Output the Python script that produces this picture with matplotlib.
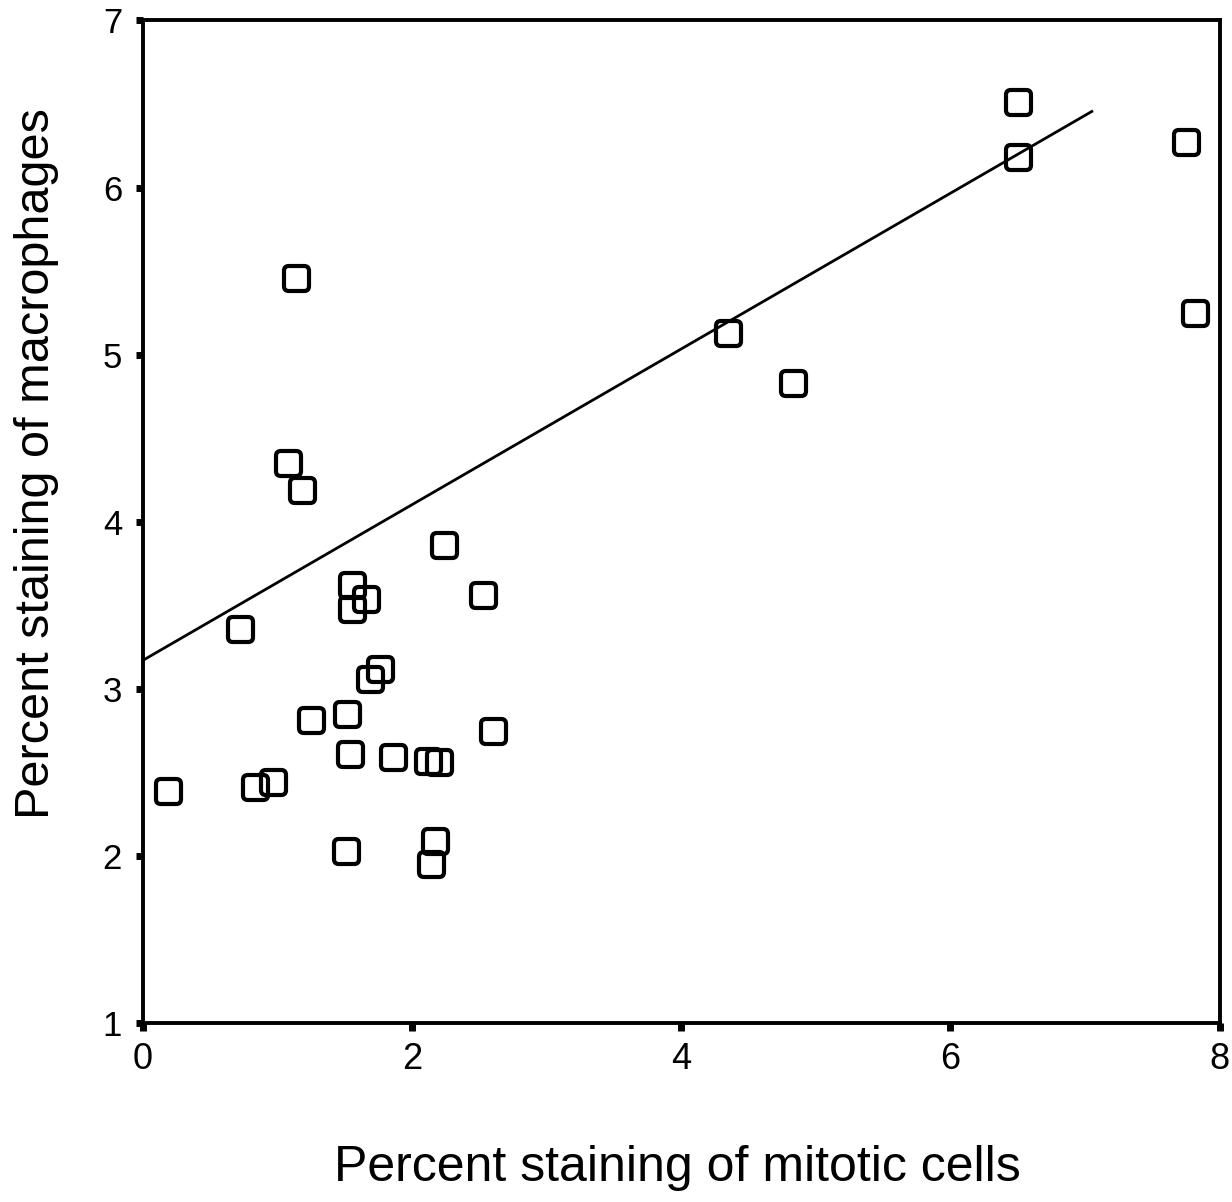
import numpy as np
import matplotlib
matplotlib.use("Agg")
import matplotlib.pyplot as plt
from matplotlib.path import Path

# Percent staining per specimen
mitotic = [0.19, 0.72, 0.83, 0.97, 1.08, 1.14, 1.18, 1.25, 1.51, 1.52,
           1.54, 1.55, 1.55, 1.66, 1.69, 1.76, 1.86, 2.12, 2.20, 2.17,
           2.14, 2.24, 2.53, 2.60, 4.35, 4.83, 6.50, 6.50, 7.75, 7.82]
macrophages = [2.39, 3.36, 2.41, 2.44, 4.35, 5.46, 4.19, 2.81, 2.03, 2.85,
               2.61, 3.62, 3.48, 3.54, 3.06, 3.12, 2.59, 2.57, 2.56, 2.09,
               1.95, 3.86, 3.56, 2.75, 5.13, 4.83, 6.51, 6.18, 6.27, 5.25]

# Fitted line
fit_intercept = 3.17
fit_slope = 0.466
fit_x_range = [0.0, 7.05]

x_ticks = [0, 2, 4, 6, 8]
y_ticks = [1, 2, 3, 4, 5, 6, 7]

x_title = "Percent staining of mitotic cells"
y_title = "Percent staining of macrophages"

plt.rcParams["font.family"] = ["Liberation Sans", "DejaVu Sans"]


def rounded_square(r=0.38):
    """Closed square outline with rounded corners."""
    verts, codes = [], []
    a = 1.0
    b = a - r
    corners = [((b, -a), (a, -a), (a, -b)),
               ((a, b), (a, a), (b, a)),
               ((-b, a), (-a, a), (-a, b)),
               ((-a, -b), (-a, -a), (-b, -a))]
    verts.append((-b, -a)); codes.append(Path.MOVETO)
    for start, ctrl, end in corners:
        verts.append(start); codes.append(Path.LINETO)
        verts.append(ctrl); codes.append(Path.CURVE3)
        verts.append(end); codes.append(Path.CURVE3)
    verts.append((-b, -a)); codes.append(Path.CLOSEPOLY)
    return Path(verts, codes)


fig = plt.figure(figsize=(12.32, 12.02), dpi=100)
ax = fig.add_axes([0.116, 0.149, 0.874, 0.834])

ax.plot(mitotic, macrophages, linestyle="none", marker=rounded_square(),
        markersize=18, markerfacecolor="none", markeredgecolor="black",
        markeredgewidth=3.0)

fx = np.array(fit_x_range)
ax.plot(fx, fit_intercept + fit_slope * fx, color="black", lw=2.0)

ax.set_xlim(0, 8)
ax.set_ylim(1, 7)
ax.set_xticks(x_ticks)
ax.set_yticks(y_ticks)
ax.set_xticklabels([str(v) for v in x_ticks])
ax.set_yticklabels([str(v) for v in y_ticks])

for s in ax.spines.values():
    s.set_linewidth(2.8)
    s.set_color("black")

ax.tick_params(axis="y", direction="out", length=5, width=5, pad=10,
               labelsize=25, color="black")
ax.tick_params(axis="x", direction="out", length=6, width=5, pad=8,
               labelsize=26, color="black")

fig.text(0.5495, 0.028, x_title, fontsize=36, ha="center", va="center")
fig.text(0.030, 0.614, y_title, fontsize=35, ha="center", va="center",
         rotation=90)

fig.savefig("out.png", dpi=100)
